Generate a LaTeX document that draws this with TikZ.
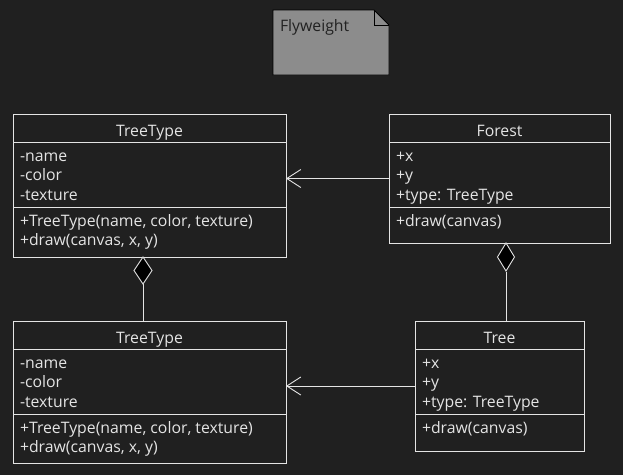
\documentclass[tikz,border=0pt]{standalone}
\usepackage{fontspec}
\setmainfont{Open Sans}
\usetikzlibrary{arrows.meta}
\definecolor{bg}{HTML}{202020}
\definecolor{fg}{HTML}{E4E4E4}
\definecolor{notefill}{HTML}{8C8C8C}
\definecolor{notetext}{HTML}{222222}
\begin{document}
\begin{tikzpicture}[x=1pt,y=-1pt,
  every node/.style={inner sep=0pt, outer sep=0pt, font=\fontsize{15.8}{18}\selectfont},
  classbox/.style={draw=fg, line width=0.9pt, fill=bg, anchor=north west, rectangle},
  txt/.style={text=fg, anchor=base west},
  title/.style={text=fg, anchor=base},
  sep/.style={draw=fg, line width=0.9pt},
  conn/.style={draw=fg, line width=0.9pt},
  openarrow/.style={-{Straight Barb[length=14pt,width=18pt,line width=0.9pt]}},
]
\fill[bg] (0,0) rectangle (623,475);
\useasboundingbox (0,0) rectangle (623,475);

% Note
\fill[notefill, draw=black, line width=0.9pt] (273,10) -- (374,10) -- (389,25) -- (389,75) -- (273,75) -- cycle;
\draw[black, line width=0.9pt] (374,10) -- (374,25) -- (389,25);
\node[text=notetext, anchor=base west] (note) at (280,31) {Flyweight};

% TreeType top
\node[classbox, minimum width=273pt, minimum height=143pt] (tt1) at (13,114) {};
\draw[sep] ([yshift=-28pt]tt1.north west) -- ([yshift=-28pt]tt1.north east);
\draw[sep] ([yshift=-93pt]tt1.north west) -- ([yshift=-93pt]tt1.north east);
\node[title] (tt1t) at (149.5,136) {TreeType};
\node[txt] (tt1a) at (20,161) {-name};
\node[txt] (tt1b) at (20,180.5) {-color};
\node[txt] (tt1c) at (20,200) {-texture};
\node[txt] (tt1d) at (20,226) {+TreeType(name, color, texture)};
\node[txt] (tt1e) at (20,245.5) {+draw(canvas, x, y)};

% Forest
\node[classbox, minimum width=221pt, minimum height=129pt] (forest) at (389,114) {};
\draw[sep] ([yshift=-28pt]forest.north west) -- ([yshift=-28pt]forest.north east);
\draw[sep] ([yshift=-93pt]forest.north west) -- ([yshift=-93pt]forest.north east);
\node[title] (forestt) at (499.5,136) {Forest};
\node[txt] (fa) at (396,161) {+x};
\node[txt] (fb) at (396,180.5) {+y};
\node[txt] (fc) at (396,200) {+type: TreeType};
\node[txt] (fd) at (396,226) {+draw(canvas)};

% TreeType bottom
\node[classbox, minimum width=273pt, minimum height=142pt] (tt2) at (13,321) {};
\draw[sep] ([yshift=-28pt]tt2.north west) -- ([yshift=-28pt]tt2.north east);
\draw[sep] ([yshift=-93pt]tt2.north west) -- ([yshift=-93pt]tt2.north east);
\node[title] (tt2t) at (149.5,343) {TreeType};
\node[txt] (tt2a) at (20,368) {-name};
\node[txt] (tt2b) at (20,387.5) {-color};
\node[txt] (tt2c) at (20,407) {-texture};
\node[txt] (tt2d) at (20,433) {+TreeType(name, color, texture)};
\node[txt] (tt2e) at (20,452.5) {+draw(canvas, x, y)};

% Tree
\node[classbox, minimum width=169pt, minimum height=130pt] (tree) at (415,321) {};
\draw[sep] ([yshift=-28pt]tree.north west) -- ([yshift=-28pt]tree.north east);
\draw[sep] ([yshift=-93pt]tree.north west) -- ([yshift=-93pt]tree.north east);
\node[title] (treet) at (499.5,343) {Tree};
\node[txt] (ta) at (422,368) {+x};
\node[txt] (tb) at (422,387.5) {+y};
\node[txt] (tc) at (422,407) {+type: TreeType};
\node[txt] (td) at (422,433) {+draw(canvas)};

% Arrows (dependency)
\draw[conn, openarrow] (forest.west) -- (forest.west -| tt1.east);
\draw[conn, openarrow] (tree.west) -- (tree.west -| tt2.east);

% Composition diamonds
\coordinate (d1top) at (tt1.south -| 143,0);
\coordinate (d2top) at (forest.south -| 506,0);
\draw[conn] (143,284) -- (tt2.north -| 143,0);
\draw[conn, fill=black] (d1top) -- ++(9,13.5) -- ++(-9,13.5) -- ++(-9,-13.5) -- cycle;
\draw[conn] (506,272) -- (tree.north -| 506,0);
\draw[conn, fill=black] (d2top) -- ++(8.5,14) -- ++(-8.5,14) -- ++(-8.5,-14) -- cycle;
\end{tikzpicture}
\end{document}
